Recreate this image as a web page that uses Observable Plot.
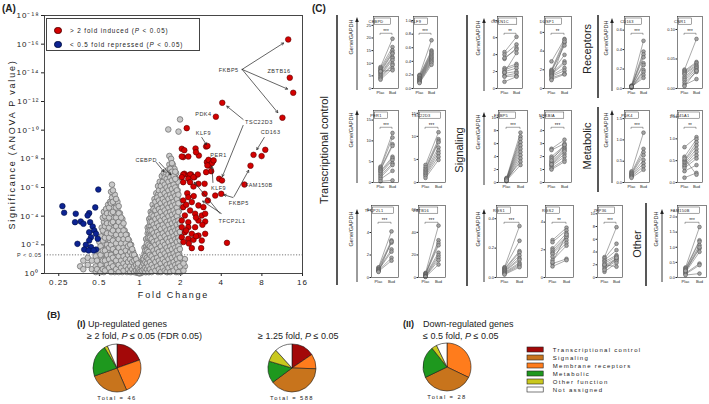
<!DOCTYPE html>
<html><head><meta charset="utf-8">
<script src="https://cdn.jsdelivr.net/npm/d3@7"></script>
<script src="https://cdn.jsdelivr.net/npm/@observablehq/plot@0.6"></script>
<style>
body{margin:0;background:#fff;font-family:"Liberation Sans",Arial,sans-serif;color:#222}
#root{position:relative;width:709px;height:404px;overflow:hidden;background:#fff}
#root svg{position:absolute}
.volc g[aria-label="x-axis tick label"] text,.volc g[aria-label="y-axis tick label"] text{letter-spacing:1px}
.volc g[aria-label="x-axis label"] text,.volc g[aria-label="y-axis label"] text{letter-spacing:1.8px;font-size:9px}
.volc g[aria-label="text"] text{letter-spacing:0.5px}
.leg text{letter-spacing:1.3px}
</style></head>
<body><div id="root"></div>
<script>
const FONT = '"Liberation Sans", Arial, sans-serif';
const root = document.getElementById("root");

// ================= Panel A data =================
const foldTicks = [0.25, 0.5, 1, 2, 4, 8, 16];
const pTicks = [1, 1e-2, 1e-4, 1e-6, 1e-8, 1e-10, 1e-12, 1e-14, 1e-16, 1e-18];
const threshold = 0.05;

// red: > 2 fold induced (fold change, -log10 P)
const redFold = [12.54,12.88,13.66,4.07,11.36,3.65,2.22,3.09,3.16,2.58,2.04,2.13,2.73,2.09,3.47,6.94,7.96,8.48,6.59,3.13,3.25,3.37,3.09,2.13,2.28,2.39,2.53,3.86,2.04,2.28,2.60,3.22,3.41,3.51,3.16,2.09,2.35,2.68,2.04,2.28,2.49,2.35,2.09,2.71,3.01,2.49,4.05,3.01,4.00,3.18,3.61,2.24,2.28,2.09,2.42,2.71,2.95,2.09,2.35,2.15,2.56,2.87,3.04,2.04,2.28,2.71,3.04,2.04,2.28,2.56,2.15,2.42,2.71,3.04,2.04,2.28,2.49,2.87,2.42,2.84,4.41,5.94,2.20,2.50,2.20,2.60,2.30,2.10,2.60,2.90];
const redNegLogP = [16.33,13.66,12.61,11.91,10.87,10.94,10.14,8.86,8.90,8.72,8.70,8.60,8.23,8.12,7.84,8.28,8.19,8.63,7.52,7.77,7.54,7.14,7.07,6.96,6.84,6.91,6.72,6.61,8.16,8.16,8.46,7.93,7.70,7.89,7.54,6.91,6.91,6.91,6.72,6.61,6.72,6.37,6.37,6.26,6.26,6.07,6.49,5.56,5.56,5.09,5.44,5.60,5.32,5.09,4.98,4.75,4.63,4.63,4.40,4.05,4.17,4.05,4.17,3.70,3.58,3.70,3.63,3.23,3.23,3.23,2.88,2.77,2.65,2.77,2.53,2.42,2.35,2.30,1.77,1.77,2.14,6.21,4.80,5.40,3.00,2.60,2.10,2.20,3.90,3.40];

// blue: < 0.5 fold repressed
const blueFold = [0.266,0.274,0.334,0.420,0.409,0.466,0.491,0.330,0.364,0.381,0.427,0.446,0.458,0.420,0.433,0.472,0.420,0.397,0.433,0.472,0.386,0.416,0.453,0.344,0.486];
const blueNegLogP = [4.70,4.24,4.17,4.21,4.05,4.61,5.86,3.58,3.63,3.47,3.58,3.28,3.00,2.88,2.53,2.77,2.30,2.00,1.84,1.67,1.67,1.61,1.61,2.07,2.42];

// grey: not significant / small change — [fold change, list of -log10 P]
const greyColumns = [
 [0.36,[0.5]],[0.38,[0.3,0.9]],[0.41,[0.6,1.1]],[0.44,[0.3,0.9]],[0.47,[0.1,0.5,1.2]],
 [0.50,[0.2,0.8,1.5,2.2]],[0.52,[0.4,1.1,1.8,2.6,3.2]],[0.54,[0.1,0.7,1.4,2.1,2.9,3.6,4.3]],
 [0.56,[0.4,1.0,1.7,2.4,3.1,3.8,4.5]],[0.58,[0.2,0.8,1.3,2.0,2.7,3.4,4.1,4.8]],
 [0.60,[0.5,1.1,1.6,2.3,3.0,3.7,4.4,5.0]],[0.62,[0.3,0.9,1.4,2.0,2.6,3.3,3.9,4.6,5.3,6.2]],
 [0.65,[0.1,0.6,1.2,1.8,2.4,3.0,3.6,4.2,4.9,5.5]],[0.68,[0.4,0.9,1.5,2.1,2.7,3.3,3.9,4.5,5.0]],
 [0.71,[0.2,0.7,1.2,1.8,2.4,3.0,3.6,4.2]],[0.74,[0.1,0.5,1.0,1.5,2.1,2.7,3.3,3.8]],
 [0.77,[0.3,0.8,1.3,1.9,2.4,3.0]],[0.80,[0.1,0.5,1.0,1.6,2.1,2.7]],[0.83,[0.3,0.7,1.2,1.8,2.3]],
 [0.86,[0.1,0.5,1.0,1.5,2.0]],[0.89,[0.2,0.6,1.1,1.5]],[0.92,[0.1,0.4,0.8,1.2]],
 [0.95,[0.05,0.3,0.6,0.9]],[0.98,[0.02,0.2,0.4]],[1.00,[0.01,0.1]],
 [1.02,[0.05,0.3,0.6]],[1.05,[0.1,0.4,0.8,1.1]],[1.08,[0.2,0.6,1.0,1.4,1.8]],
 [1.11,[0.1,0.5,0.9,1.4,1.9,2.4]],[1.14,[0.3,0.8,1.3,1.8,2.3,2.8,3.2]],
 [1.17,[0.1,0.6,1.1,1.7,2.2,2.8,3.3,3.8]],[1.20,[0.4,0.9,1.5,2.1,2.7,3.3,3.9,4.3]],
 [1.24,[0.2,0.7,1.3,1.9,2.5,3.1,3.7,4.3,4.8]],[1.28,[0.5,1.1,1.7,2.3,2.9,3.5,4.1,4.6,5.2]],
 [1.32,[0.3,0.9,1.5,2.1,2.7,3.3,3.9,4.5,5.0,5.6]],[1.36,[0.1,0.7,1.3,1.9,2.5,3.1,3.7,4.3,4.9,5.5,6.1]],
 [1.40,[0.4,1.0,1.6,2.2,2.8,3.4,4.0,4.6,5.2,5.8,6.4]],[1.45,[0.2,0.8,1.4,2.0,2.6,3.2,3.8,4.4,5.0,5.6,6.2,6.8]],
 [1.50,[0.5,1.1,1.7,2.3,2.9,3.5,4.1,4.7,5.3,5.9,6.5,7.0]],[1.55,[0.3,0.9,1.5,2.1,2.7,3.3,3.9,4.5,5.1,5.7,6.3,6.9]],
 [1.60,[0.1,0.7,1.3,1.9,2.5,3.1,3.7,4.3,4.9,5.5,6.1,6.7,7.2]],[1.65,[0.4,1.0,1.6,2.2,2.8,3.4,4.0,4.6,5.2,5.8,6.4,7.0,7.6,8.2]],
 [1.70,[0.2,0.8,1.4,2.0,2.6,3.2,3.8,4.4,5.0,5.6,6.2,6.8,7.4,8.0]],[1.75,[0.5,1.1,1.7,2.3,2.9,3.5,4.1,4.7,5.3,5.9,6.5,7.1,7.6]],
 [1.80,[0.3,0.9,1.5,2.1,2.7,3.3,3.9,4.5,5.1,5.7,6.3,6.8,7.3]],[1.85,[0.1,0.7,1.3,1.9,2.5,3.1,3.7,4.3,4.9,5.5,6.1,6.6,7.0]],
 [1.90,[0.4,1.0,1.6,2.2,2.8,3.4,4.0,4.6,5.2,5.8,6.4]],[1.95,[0.2,0.8,1.4,2.0,2.6,3.2,3.8,4.4,5.0]],
 [2.00,[0.1,0.6,1.1]],[2.05,[0.3,0.8]],[2.15,[0.5,1.0]],
 [1.62,[10.05]],[1.93,[9.9]],[1.98,[10.75]]
];
// grey, denser interior of the cloud
const greyColumnsInner = [
 [0.48,[0.3,0.9]],[0.51,[0.1,0.6,1.3,1.9]],[0.53,[0.3,0.9,1.6,2.3,3.0,3.9]],[0.55,[0.2,0.9,1.6,2.5,3.3,4.0]],
 [0.57,[0.6,1.3,2.0,2.8,3.5,4.2]],[0.59,[0.4,1.0,1.8,2.5,3.2,3.9,4.6]],[0.61,[0.1,0.7,1.3,2.0,2.8,3.5,4.2,4.9,5.7]],
 [0.63,[0.5,1.1,1.7,2.3,3.0,3.6,4.3,5.0,5.8]],[0.665,[0.3,0.9,1.5,2.1,2.7,3.3,3.9,4.6,5.2]],
 [0.695,[0.1,0.6,1.2,1.8,2.4,3.0,3.6,4.2,4.7]],[0.725,[0.4,0.9,1.5,2.1,2.7,3.3,3.9]],
 [0.755,[0.2,0.7,1.2,1.8,2.4,3.0,3.5]],[0.785,[0.5,1.0,1.6,2.1,2.7]],[0.815,[0.3,0.8,1.3,1.9,2.4]],
 [0.845,[0.1,0.5,1.0,1.5,2.0]],[0.875,[0.3,0.8,1.3,1.7]],[0.905,[0.1,0.5,0.9,1.3]],[0.935,[0.2,0.6,1.0]],
 [0.965,[0.1,0.4,0.7]],[0.99,[0.05,0.25]],
 [1.01,[0.15]],[1.035,[0.2,0.5]],[1.065,[0.3,0.7,1.0]],[1.095,[0.1,0.4,0.8,1.2,1.6]],[1.125,[0.3,0.7,1.1,1.6,2.1]],
 [1.155,[0.1,0.5,1.0,1.5,2.0,2.5,3.0]],[1.185,[0.3,0.8,1.3,1.9,2.5,3.0,3.6]],[1.22,[0.1,0.6,1.2,1.8,2.4,3.0,3.6,4.1]],
 [1.26,[0.4,1.0,1.6,2.2,2.8,3.4,4.0,4.5]],[1.30,[0.2,0.8,1.4,2.0,2.6,3.2,3.8,4.4,5.0]],
 [1.34,[0.5,1.1,1.7,2.3,2.9,3.5,4.1,4.7,5.3]],[1.38,[0.3,0.9,1.5,2.1,2.7,3.3,3.9,4.5,5.1,5.8]],
 [1.425,[0.1,0.7,1.3,1.9,2.5,3.1,3.7,4.3,4.9,5.5,6.1]],[1.475,[0.4,1.0,1.6,2.2,2.8,3.4,4.0,4.6,5.2,5.8,6.4]],
 [1.525,[0.2,0.8,1.4,2.0,2.6,3.2,3.8,4.4,5.0,5.6,6.2,6.7]],[1.575,[0.1,0.6,1.2,1.8,2.4,3.0,3.6,4.2,4.8,5.4,6.0,6.6]],
 [1.625,[0.4,1.0,1.6,2.2,2.8,3.4,4.0,4.6,5.2,5.8,6.4,6.9]],[1.675,[0.1,0.7,1.3,1.9,2.5,3.1,3.7,4.3,4.9,5.5,6.1,6.7,7.3]],
 [1.725,[0.5,1.1,1.7,2.3,2.9,3.5,4.1,4.7,5.3,5.9,6.5,7.1,7.7]],[1.775,[0.2,0.8,1.4,2.0,2.6,3.2,3.8,4.4,5.0,5.6,6.2,6.8]],
 [1.825,[0.6,1.2,1.8,2.4,3.0,3.6,4.2,4.8,5.4,6.0,6.6,7.1]],[1.875,[0.4,1.0,1.6,2.2,2.8,3.4,4.0,4.6,5.2,5.8]],
 [1.925,[0.1,0.7,1.3,1.9,2.5,3.1,3.7,4.3,4.9,5.5]],[1.975,[0.5,1.1,1.7,2.3,2.9,3.5]],[2.1,[0.2,0.7]]
];

// gene annotations: label position (fold, -log10 P)
const labelNames = ["FKBP5","ZBTB16","TSC22D3","PDK4","KLF9","KLF9","CD163","PER1","CEBPD","FAM150B","FKBP5","TFCP2L1"];
const labelFold  = [4.54,10.73,7.61,2.95,2.95,3.82,9.29,3.82,1.11,7.61,5.40,4.81];
const labelNLP   = [14.21,14.1,10.56,11.14,9.79,5.98,9.86,8.28,7.93,6.19,4.93,3.65];
// arrows: [fold1, -log10P1, fold2, -log10P2]
const labelArrows = [
 [5.71,14.24,11.76,16.12],[5.71,14.24,12.6,12.84],[5.71,14.24,10.61,11.17],
 [5.81,10.75,4.34,11.72],[5.81,10.33,4.05,6.70],
 [2.87,9.49,3.13,8.93],[3.47,6.35,3.41,7.54],
 [8.33,9.49,7.27,8.58],
 [1.32,7.75,1.52,7.05],[1.39,7.75,1.71,6.84],
 [4.89,5.30,4.12,5.51],[4.98,5.37,6.44,7.26],
 [3.91,4.19,2.50,6.42],[4.00,4.19,2.87,5.09]
];

// ================= Panel B data =================
const categories = ["Transcriptional control","Signaling","Membrane receptors","Metabolic","Other function","Not assigned"];
const catColors  = ["#a30808","#c8741c","#ff7c1c","#1e981e","#c9c81e","#ffffff"];
const pieOrder   = ["Transcriptional control","Membrane receptors","Signaling","Metabolic","Other function","Not assigned"];
const upCounts2fold  = [9,11,12,10,1,3];
const upCounts125    = [91,59,231,87,51,69];
const downCounts     = [0,9,10,6,1,2];

// ================= Panel C data (Gene/GAPDH, placebo vs budesonide) =================
const CEBPD   = {plac:[8.5,8.0,7.5,7.0,6.5,6.0,5.5,5.0,4.5,4.0,3.5,6.8], bud:[19.7,16.4,15.1,14.2,13.8,12.5,12.0,11.2,9.8,9.2,7.9,7.2]};
const KLF9    = {plac:[0.2,0.19,0.18,0.16,0.15,0.14,0.13,0.12,0.11,0.1,0.09,0.08], bud:[0.71,0.56,0.54,0.52,0.5,0.48,0.46,0.44,0.42,0.4,0.38,0.35]};
const CDKN1C  = {plac:[4.3,4.0,3.5,3.6,2.4,2.2,2.0,1.8,1.5,1.4,0.8,1.9], bud:[6.1,5.2,4.8,4.6,2.9,2.7,2.4,2.0,1.8,1.5,1.4,4.2]};
const DUSP1   = {plac:[2.9,2.0,1.9,1.8,1.7,1.6,1.5,1.4,1.3,1.15,1.0,0.9], bud:[5.3,5.2,4.9,4.6,3.6,2.9,2.7,2.2,1.9,1.6,1.5,5.0]};
const CD163   = {plac:[0.03,0.025,0.02,0.02,0.015,0.015,0.01,0.01,0.012,0.018], bud:[0.49,0.38,0.35,0.32,0.26,0.24,0.19,0.17,0.14,0.11]};
const CNR1    = {plac:[0.032,0.03,0.028,0.026,0.024,0.02,0.017,0.014,0.01,0.006,0.004], bud:[0.084,0.045,0.043,0.04,0.038,0.036,0.034,0.031,0.028,0.016,0.03]};
const PER1    = {plac:[3.8,3.5,3.2,3.0,2.7,2.4,2.0,1.6,1.2,0.8,0.3], bud:[11.9,10.8,9.2,8.8,6.2,5.8,5.4,4.6,4.2,2.8,0.5]};
const TSC22D3 = {plac:[3.8,3.3,2.9,2.6,2.3,2.0,1.7,1.4,1.0], bud:[10.9,9.4,9.0,8.7,7.6,6.9,6.3,5.6,4.9]};
const FKBP5   = {plac:[0.7,0.6,0.5,0.45,0.4,0.35,0.3,0.25,0.2,0.5,0.3], bud:[7.7,7.1,6.7,6.2,5.7,5.2,4.7,4.2,3.7,3.2,2.7]};
const NFKBIA  = {plac:[2.6,2.5,2.0,1.85,1.6,1.5,1.35,1.25,1.1,1.0,1.4,1.7], bud:[3.3,3.0,2.85,2.7,2.6,2.5,2.2,2.0,1.75,1.6,2.4,2.9]};
const PDK4    = {plac:[0.26,0.23,0.21,0.19,0.17,0.15,0.13,0.11], bud:[1.17,0.79,0.71,0.64,0.53,0.45,0.38,0.3]};
const SLC45A1 = {plac:[0.81,0.59,0.51,0.48,0.44,0.4,0.37,0.33,0.26,0.11,0.55], bud:[1.04,0.99,0.92,0.85,0.77,0.7,0.62,0.55,0.4,0.22,0.18]};
const TFCP2L1 = {plac:[0.9,0.85,0.75,0.7,0.65,0.6,0.55,0.5], bud:[4.1,3.3,3.1,2.5,2.3,1.75,1.5,3.2]};
const ZBTB16  = {plac:[4,3.5,3,2.5,2,1.5,1,0.8,0.5], bud:[46,33,30.6,28.5,22,19.7,17.6,15.3,11.5]};
const RGS1    = {plac:[0.07,0.065,0.06,0.055,0.05,0.045,0.04,0.035,0.03,0.025,0.02], bud:[0.35,0.25,0.18,0.17,0.15,0.13,0.12,0.1,0.09,0.08,0.07]};
const RGS2    = {plac:[2.7,2.55,2.1,1.95,1.8,1.7,1.5,1.25,1.0,0.8,1.1], bud:[3.6,3.4,3.2,3.0,2.9,2.7,2.5,2.3,1.35,1.25,3.1]};
const ZFP36   = {plac:[3.2,3.0,2.7,2.5,2.2,1.9,1.7,1.4,0.9,2.0,1.2], bud:[7.9,5.3,4.3,3.5,3.3,3.0,2.8,2.6,2.3,1.7,3.1]};
const FAM150B = {plac:[0.33,0.3,0.27,0.24,0.2,0.17,0.14,0.11,0.08,0.22], bud:[1.67,1.23,1.18,1.07,0.96,0.85,0.46,0.41,0.13,1.0]};

const miniSpecs = [
 {gene:"CEBPD",  data:CEBPD,  yMax:28.5, ticks:[0,5,10,15,20,25], fmt:"d",  stars:"***"},
 {gene:"KLF9",   data:KLF9,   yMax:1.06, ticks:[0,0.2,0.4,0.6,0.8,1.0], fmt:".1f", stars:"***"},
 {gene:"CDKN1C", data:CDKN1C, yMax:8.5,  ticks:[0,2,4,6,8], fmt:"d", stars:"**"},
 {gene:"DUSP1",  data:DUSP1,  yMax:7.7,  ticks:[0,2,4,6], fmt:"d", stars:"**"},
 {gene:"CD163",  data:CD163,  yMax:0.74, ticks:[0,0.2,0.4,0.6], fmt:".1f", stars:"***"},
 {gene:"CNR1",   data:CNR1,   yMax:0.122,ticks:[0,0.05,0.1], fmt:".2f", stars:"***"},
 {gene:"PER1",   data:PER1,   yMax:17.3, ticks:[0,5,10,15], fmt:"d", stars:"***"},
 {gene:"TSC22D3",data:TSC22D3,yMax:15.6, ticks:[0,5,10,15], fmt:"d", stars:"***"},
 {gene:"FKBP5",  data:FKBP5,  yMax:11.1, ticks:[0,2,4,6,8,10], fmt:"d", stars:"***"},
 {gene:"NFKBIA", data:NFKBIA, yMax:5.55, ticks:[0,1,2,3,4,5], fmt:"d", stars:"***"},
 {gene:"PDK4",   data:PDK4,   yMax:1.69, ticks:[0,0.5,1.0,1.5], fmt:".1f", stars:"***"},
 {gene:"SLC45A1",data:SLC45A1,yMax:1.65, ticks:[0,0.5,1.0,1.5], fmt:".1f", stars:"**"},
 {gene:"TFCP2L1",data:TFCP2L1,yMax:6.4,  ticks:[0,2,4,6], fmt:"d", stars:"***"},
 {gene:"ZBTB16", data:ZBTB16, yMax:63.8, ticks:[0,20,40,60], fmt:"d", stars:"***"},
 {gene:"RGS1",   data:RGS1,   yMax:0.49, ticks:[0,0.2,0.4], fmt:".1f", stars:"***"},
 {gene:"RGS2",   data:RGS2,   yMax:5.2,  ticks:[0,2,4], fmt:"d", stars:"**"},
 {gene:"ZFP36",  data:ZFP36,  yMax:11.3, ticks:[0,2,4,6,8,10], fmt:"d", stars:"***"},
 {gene:"FAM150B",data:FAM150B,yMax:2.38, ticks:[0,0.5,1.0,1.5,2.0], fmt:".1f", stars:"***"}
];

// ================= layout (pixels) =================
// frame [left, right, top] for each small panel
const miniLayout = {
 CEBPD:[373,398,16], KLF9:[413,437,16], CDKN1C:[497,522,16], DUSP1:[544,571,16], CD163:[624,649,16], CNR1:[677,702,16],
 PER1:[373,398,110], TSC22D3:[418,445,110], FKBP5:[498,527,110], NFKBIA:[544,571,110], PDK4:[624,649,110], SLC45A1:[677,702,110],
 TFCP2L1:[371,398,205], ZBTB16:[418,445,205], RGS1:[496,527,205], RGS2:[545,573,205], ZFP36:[597,622,205], FAM150B:[677,706,205]
};

// ================= helpers =================
const supMap = {"0":"⁰","1":"¹","2":"²","3":"³","4":"⁴","5":"⁵","6":"⁶","7":"⁷","8":"⁸","9":"⁹","-":"⁻"};
const powFmt = d => "10" + String(Math.round(Math.log10(d))).split("").map(c => supMap[c]).join("");
function place(el, x, y) { el.style.position = "absolute"; el.style.left = x + "px"; el.style.top = y + "px"; root.appendChild(el); return el; }
function txt(html, x, y, size, opts = {}) {
  const d = document.createElement("div");
  d.innerHTML = html;
  d.style.cssText = `position:absolute;white-space:nowrap;line-height:1;font-size:${size}px;left:${x}px;top:${y}px;` + (opts.css || "");
  let tf = "";
  if (opts.center) tf += "translate(-50%,-50%) ";
  if (opts.rotate) tf += `rotate(${opts.rotate}deg)`;
  if (tf) d.style.transform = tf;
  root.appendChild(d); return d;
}

// ================= Panel A: volcano =================
const grey = greyColumns.concat(greyColumnsInner).flatMap(([fc, ks]) => ks.map(k => ({fc, p: 10 ** -k})));
const red = redFold.map((fc, i) => ({fc, p: 10 ** -redNegLogP[i]}));
const blue = blueFold.map((fc, i) => ({fc, p: 10 ** -blueNegLogP[i]}));
const labels = labelNames.map((name, i) => ({name, fc: labelFold[i], p: 10 ** -labelNLP[i]}));
const arrows = labelArrows.map(([a, b, c, d]) => ({x1: a, y1: 10 ** -b, x2: c, y2: 10 ** -d}));

const volcano = Plot.plot({
  width: 310, height: 300, marginLeft: 44, marginRight: 8, marginTop: 15, marginBottom: 27,
  style: {fontFamily: FONT, fontSize: "8px", color: "#222", background: "transparent", overflow: "visible"},
  x: {type: "log", base: 2, domain: [0.196, 16], ticks: foldTicks, tickFormat: d => String(d), tickSize: 3, tickPadding: 3,
      label: "Fold Change", labelAnchor: "center", labelOffset: 24, labelArrow: false},
  y: {type: "log", domain: [1, 1e-18], ticks: pTicks, tickFormat: powFmt, tickSize: 3, tickPadding: 2,
      label: "Significance (ANOVA P value)", labelAnchor: "center", labelOffset: 36, labelArrow: false},
  marks: [
    Plot.ruleY([threshold], {stroke: "#555", strokeDasharray: "1.2,1.6", strokeWidth: 0.8}),
    Plot.text([threshold], {y: d => d, frameAnchor: "left", textAnchor: "end", dx: -3, text: () => "P < 0.05", fontSize: 5.5, fill: "#333"}),
    Plot.dot(grey, {x: "fc", y: "p", r: 2.8, fill: "#c9c9c9", stroke: "#737373", strokeWidth: 0.8}),
    Plot.dot(blue, {x: "fc", y: "p", r: 2.8, fill: "#0d2392", stroke: "#000f45", strokeWidth: 0.6}),
    Plot.dot(red, {x: "fc", y: "p", r: 2.8, fill: "#d40000", stroke: "#5a0000", strokeWidth: 0.6}),
    Plot.arrow(arrows, {x1: "x1", y1: "y1", x2: "x2", y2: "y2", stroke: "#222", strokeWidth: 0.7, headLength: 5, insetEnd: 1}),
    Plot.text(labels, {x: "fc", y: "p", text: "name", fontSize: 5.5, fill: "#333"}),
    Plot.frame({stroke: "#333", strokeWidth: 0.9})
  ]
});
volcano.classList.add("volc");
place(volcano, 0, 0);

// legend of panel A
const legA = document.createElement("div");
legA.style.cssText = "position:absolute;left:46px;top:18px;width:154px;height:33px;border:0.8px solid #444;background:#fff;box-sizing:border-box;font-size:6.3px;letter-spacing:0.9px;";
legA.innerHTML = `
<div style="position:absolute;left:7px;top:7.5px;width:5.6px;height:5.6px;border-radius:50%;background:#d40000;border:0.6px solid #5a0000"></div>
<div style="position:absolute;left:23px;top:7.5px;white-space:nowrap">&gt; 2 fold induced (<i>P</i> &lt; 0.05)</div>
<div style="position:absolute;left:7px;top:21.5px;width:5.6px;height:5.6px;border-radius:50%;background:#0d2392;border:0.6px solid #000f45"></div>
<div style="position:absolute;left:23px;top:21.5px;white-space:nowrap">&lt; 0.5 fold repressed (<i>P</i> &lt; 0.05)</div>`;
root.appendChild(legA);

// ================= Panel B: pies =================
const colorScale = Plot.scale({color: {type: "ordinal", domain: categories, range: catColors}});
function pieMark(counts) {
  return function(index, scales, values, dims) {
    const cx = dims.width / 2, cy = dims.height / 2, r = 24;
    const data = pieOrder.map((cat, i) => ({cat, n: counts[i]}));
    const arcs = d3.pie().sort(null).value(d => d.n)(data);
    const arc = d3.arc().innerRadius(0).outerRadius(r);
    const g = d3.create("svg:g").attr("transform", `translate(${cx},${cy})`);
    g.selectAll("path").data(arcs.filter(a => a.data.n > 0)).join("path")
      .attr("d", arc).attr("fill", d => colorScale.apply(d.data.cat))
      .attr("stroke", "#1a1a1a").attr("stroke-width", 0.6);
    return g.node();
  };
}
function pie(counts, cx, cy) {
  const svg = Plot.plot({width: 54, height: 54, margin: 0, style: {background: "transparent"}, marks: [pieMark(counts)]});
  place(svg, cx - 27, cy - 27);
}
pie(upCounts2fold, 117, 368);
pie(upCounts125, 292, 368);
pie(downCounts, 447, 367);

// legend of panel B
const legB = Plot.plot({
  width: 180, height: 54, marginLeft: 0, marginRight: 0, marginTop: 0, marginBottom: 0,
  style: {fontFamily: FONT, fontSize: "6px", background: "transparent", overflow: "visible"},
  x: {domain: [0, 1], axis: null},
  y: {type: "band", domain: categories, axis: null, padding: 0.4},
  color: {domain: categories, range: catColors},
  marks: [
    Plot.barX(categories, {y: d => d, x1: 0, x2: 0.09, fill: d => d, stroke: "#222", strokeWidth: 0.6}),
    Plot.text(categories, {y: d => d, x: 0.14, text: d => d, textAnchor: "start", fontSize: 6, fill: "#222"})
  ]
});
legB.classList.add("leg");
place(legB, 527, 342);

// ================= Panel C: small multiples =================
function geneTag(gene, stars, fh) {
  return function(index, scales, values, dims) {
    const ml = dims.marginLeft, mt = dims.marginTop, fw = dims.width - ml - dims.marginRight;
    const xs = scales && typeof scales.x === "function" ? scales.x : null;
    const xp = xs ? xs("Plac") : ml + fw * 0.25, xb = xs ? xs("Bud") : ml + fw * 0.75;
    const g = d3.create("svg:g").attr("font-family", FONT);
    const w = gene.length * 2.55 + 3;
    g.append("rect").attr("x", ml + 1.5).attr("y", mt + 2).attr("width", w).attr("height", 6.2)
      .attr("fill", "white").attr("stroke", "#333").attr("stroke-width", 0.45);
    g.append("text").attr("x", ml + 3).attr("y", mt + 6.6).attr("font-size", 3.9).attr("letter-spacing", 0.3).attr("fill", "#222").text(gene);
    const yb = mt + fh * 0.24;
    g.append("path").attr("d", `M${xp},${yb + 1.6}V${yb}H${xb}V${yb + 1.6}`).attr("fill", "none").attr("stroke", "#333").attr("stroke-width", 0.45);
    g.append("text").attr("x", (xp + xb) / 2).attr("y", yb - 0.4).attr("text-anchor", "middle").attr("font-size", 4.6).attr("fill", "#222").text(stars);
    return g.node();
  };
}
function miniPanel(spec, cell) {
  const fw = cell[1] - cell[0], fh = 72, ml = 12, mr = 1, mt = 1, mb = 10;
  const pairs = spec.data.plac.map((v, i) => ({a: "Plac", b: "Bud", plac: v, bud: spec.data.bud[i]}));
  const pts = pairs.flatMap(d => [{g: "Plac", v: d.plac}, {g: "Bud", v: d.bud}]);
  const svg = Plot.plot({
    width: fw + ml + mr, height: fh + mt + mb, marginLeft: ml, marginRight: mr, marginTop: mt, marginBottom: mb,
    style: {fontFamily: FONT, fontSize: "4px", background: "transparent", overflow: "visible"},
    x: {type: "point", domain: ["Plac", "Bud"], padding: 0.5, tickSize: 0, tickPadding: 3, label: null},
    y: {domain: [0, spec.yMax], ticks: spec.ticks, tickFormat: d3.format(spec.fmt), tickSize: 1.5, tickPadding: 1, label: null},
    marks: [
      Plot.link(pairs, {x1: "a", y1: "plac", x2: "b", y2: "bud", stroke: "#555", strokeWidth: 0.5}),
      Plot.dot(pts, {x: "g", y: "v", r: 1.9, fill: "#a3a3a3", stroke: "#444", strokeWidth: 0.45}),
      Plot.frame({stroke: "#333", strokeWidth: 0.6}),
      geneTag(spec.gene, spec.stars, fh)
    ]
  });
  place(svg, cell[0] - ml, cell[2] - mt);
}
miniSpecs.forEach(s => miniPanel(s, miniLayout[s.gene]));

// ================= decorations & text =================
const deco = d3.create("svg").attr("width", 709).attr("height", 404).style("left", "0px").style("top", "0px").style("pointer-events", "none");
[[337,15,285],[467,15,286],[598,15,98],[598,107,192],[646,203,286]].forEach(([x, y1, y2]) =>
  deco.append("line").attr("x1", x).attr("x2", x).attr("y1", y1).attr("y2", y2).attr("stroke", "#111").attr("stroke-width", 1.4));
const yArrows = [[357,17],[357,110],[357,209],[484,18],[484,112],[484,209],[612,18],[612,110],[662,209]];
yArrows.forEach(([x, tip]) => {
  deco.append("line").attr("x1", x).attr("x2", x).attr("y1", tip + 4).attr("y2", tip + 73).attr("stroke", "#222").attr("stroke-width", 0.9);
  deco.append("path").attr("d", `M${x},${tip}L${x - 1.8},${tip + 5}L${x + 1.8},${tip + 5}Z`).attr("fill", "#222");
  deco.append("text").attr("transform", `translate(${x - 4.5},${tip + 20}) rotate(-90)`).attr("text-anchor", "middle")
    .attr("font-family", FONT).attr("font-size", 5.6).attr("fill", "#333").text("Gene/GAPDH");
});
[["Transcriptional control",328,150],["Signaling",463,150],["Receptors",591,49],["Metabolic",591,146],["Other",641,244]].forEach(([t, x, y]) =>
  deco.append("text").attr("transform", `translate(${x},${y}) rotate(-90)`).attr("text-anchor", "middle")
    .attr("font-family", FONT).attr("font-size", 11).attr("fill", "#222").text(t));
root.appendChild(deco.node());

txt("(A)", 2, 4, 10, {css: "font-weight:bold"});
txt("(C)", 312, 4, 10, {css: "font-weight:bold"});
txt("(B)", 47, 310, 9.5, {css: "font-weight:bold"});
txt("(I)", 77, 320, 9, {css: "font-weight:bold"});
txt("Up-regulated genes", 88, 320, 9);
txt("≥ 2 fold, <i>P</i> ≤ 0.05 (FDR 0.05)", 87, 332, 9);
txt("≥ 1.25 fold, <i>P</i> ≤ 0.05", 258, 332, 9);
txt("(II)", 403, 320, 9, {css: "font-weight:bold"});
txt("Down-regulated genes", 423, 320, 9);
txt("≤ 0.5 fold, <i>P</i> ≤ 0.05", 423, 332, 9);
txt("Total = 46", 117, 399, 5.8, {center: true, css: "letter-spacing:1.4px"});
txt("Total = 588", 292, 399, 5.8, {center: true, css: "letter-spacing:1.4px"});
txt("Total = 28", 447, 398, 5.8, {center: true, css: "letter-spacing:1.4px"});
</script></body></html>
